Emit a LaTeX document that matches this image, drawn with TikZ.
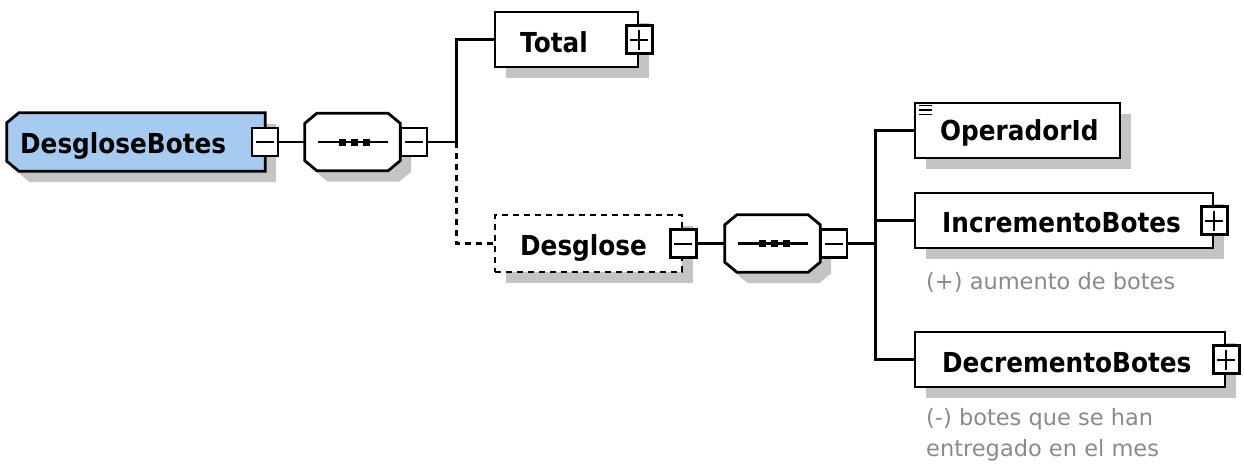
\documentclass[tikz,border=0pt]{standalone}
\usepackage{fontspec}
\setmainfont{DejaVu Sans}
\usetikzlibrary{shadows}
\definecolor{rootblue}{HTML}{A6CAF0}
\definecolor{shadowgray}{HTML}{C4C4C4}
\definecolor{notegray}{HTML}{8A8A8A}
\tikzset{
  shade/.style={drop shadow={shadow xshift=11pt, shadow yshift=-11pt, fill=shadowgray, opacity=1}},
  anchorbox/.style={rectangle, draw=none, inner sep=0pt, minimum height=55pt},
  elem/.style={draw, line width=2.8pt, fill=white, shade, rectangle, minimum height=55pt, inner sep=0pt},
  outline/.style={draw, line width=2.8pt, fill=white, shade},
  btn/.style={draw, line width=2.2pt, fill=white, rectangle, minimum width=26pt, minimum height=28pt, inner sep=0pt},
  minus/.style={btn, path picture={
      \draw[line width=2pt] ([xshift=4pt]path picture bounding box.west) -- ([xshift=-4pt]path picture bounding box.east);}},
  plus/.style={btn, path picture={
      \draw[line width=2pt] ([xshift=4pt]path picture bounding box.west) -- ([xshift=-4pt]path picture bounding box.east);
      \draw[line width=2pt] ([yshift=-4pt]path picture bounding box.north) -- ([yshift=4pt]path picture bounding box.south);}},
  lbl/.style={inner sep=0pt, anchor=base west, xscale=0.9, font=\fontsize{27.5}{30}\selectfont\bfseries},
  note/.style={inner sep=0pt, anchor=base west, align=left, text=notegray, font=\fontsize{22.5}{31}\selectfont},
  conn/.style={line width=2.8pt},
  optconn/.style={line width=2.8pt, dash pattern=on 6pt off 5pt},
  seqline/.style={line width=2.4pt},
}
% octagon outline round a named node
\newcommand\octpath[1]{([xshift=12pt]#1.north west) -- ([xshift=-12pt]#1.north east) -- ([yshift=-10pt]#1.north east) -- ([yshift=10pt]#1.south east) -- ([xshift=-12pt]#1.south east) -- ([xshift=12pt]#1.south west) -- ([yshift=10pt]#1.south west) -- ([yshift=-10pt]#1.north west) -- cycle}
\newcommand\seqsymbol[1]{%
  \draw[seqline] ([xshift=13pt]#1.west) -- ([xshift=-12pt]#1.east);
  \foreach \dx in {-10,1.5,13.5} \fill ([xshift=\dx pt]#1.center) ++(-3.5pt,-3.5pt) rectangle ++(7pt,7pt);}
\begin{document}
\begin{tikzpicture}[x=1pt,y=-1pt]
\useasboundingbox (0,0) rectangle (1244,466);
% root
\node[anchorbox, minimum width=258pt, minimum height=58pt] (root) at (136,142) {};
\draw[outline, fill=rootblue] ([xshift=12pt]root.north west) -- (root.north east) -- (root.south east) -- ([xshift=12pt]root.south west) -- ([yshift=10pt]root.south west) -- ([yshift=-10pt]root.north west) -- cycle;
\node[lbl] (rootl) at (20,153) {DesgloseBotes};
\node[minus] (b1) at (root.east) {};
% first sequence
\node[anchorbox, minimum width=95pt, minimum height=57pt] (s1) at (352.5,142) {};
\draw[outline] \octpath{s1};
\seqsymbol{s1}
\node[minus, anchor=west] (b2) at (s1.east) {};
\coordinate (j1) at ([xshift=28pt]b2.east);
% Total
\node[elem, minimum width=143pt] (total) at (566.5,39.5) {};
\node[lbl] (totall) at (520,52) {Total};
\node[plus] (b3) at (total.east) {};
% Desglose
\node[elem, dash pattern=on 6pt off 5pt, minimum width=187pt, minimum height=57pt] (desg) at (588.5,243.5) {};
\node[lbl] (desgl) at (520,255) {Desglose};
\node[minus] (b4) at (desg.east) {};
% second sequence
\node[anchorbox, minimum width=95pt, minimum height=57pt] (s2) at (772.5,243.5) {};
\draw[outline] \octpath{s2};
\seqsymbol{s2}
\node[minus, anchor=west] (b5) at (s2.east) {};
\coordinate (j2) at ([xshift=27pt]b5.east);
% OperadorId
\node[elem, minimum width=205pt] (oper) at (1017.5,130.5) {};
\node[lbl] (operl) at (940,140) {OperadorId};
\draw[line width=1.6pt] ([xshift=5pt,yshift=-4pt]oper.north west) -- ++(13pt,0pt)
  ([xshift=5pt,yshift=-8.5pt]oper.north west) -- ++(13pt,0pt)
  ([xshift=5pt,yshift=-13pt]oper.north west) -- ++(13pt,0pt);
% IncrementoBotes
\node[elem, minimum width=298pt] (inc) at (1064,220.5) {};
\node[lbl] (incl) at (942,232) {IncrementoBotes};
\node[plus] (b6) at (inc.east) {};
\node[note] (incn) at (926,289) {(+) aumento de botes};
% DecrementoBotes
\node[elem, minimum width=310pt] (dec) at (1070,359.5) {};
\node[lbl] (decl) at (942,372) {DecrementoBotes};
\node[plus] (b7) at (dec.east) {};
\node[note] (decn) at (926,456) {(-) botes que se han\\entregado en el mes};
% connectors
\draw[conn] (b1.east) -- (s1.west);
\draw[conn] (b2.east) -- (j1);
\draw[conn] (j1) |- (total.west);
\draw[optconn] (j1) |- (desg.west);
\draw[conn] (b4.east) -- (s2.west);
\draw[conn] (b5.east) -- (j2);
\draw[conn] (j2) |- (oper.west);
\draw[conn] (j2) |- (inc.west);
\draw[conn] (j2) |- (dec.west);
\end{tikzpicture}
\end{document}
